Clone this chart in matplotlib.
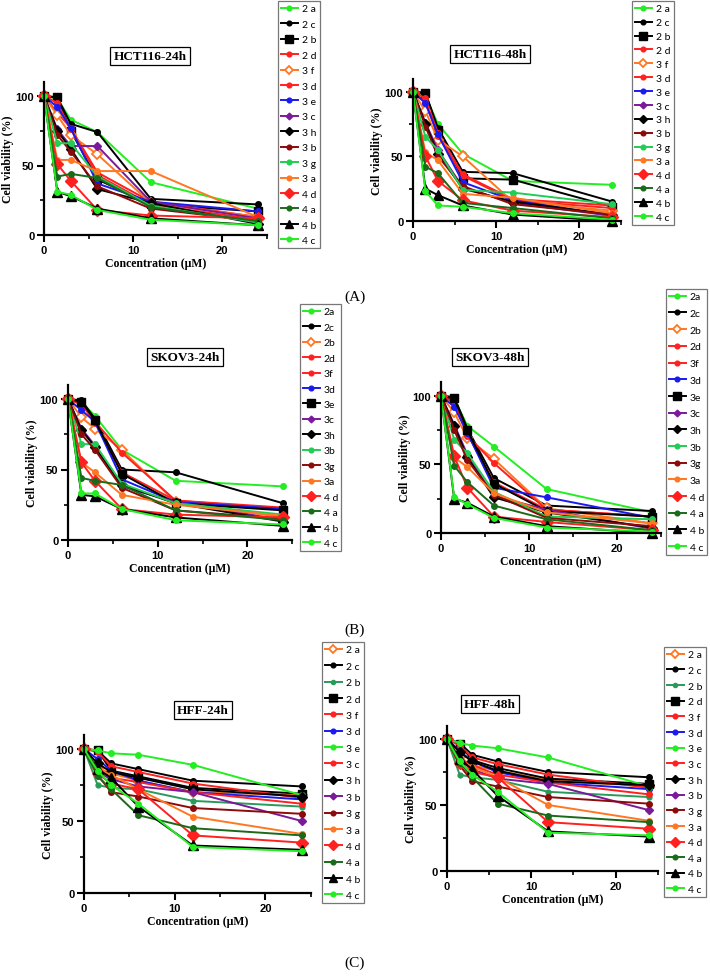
import matplotlib
matplotlib.use("Agg")
import matplotlib.pyplot as plt
from matplotlib.ticker import MultipleLocator

conc = [0, 1.5, 3, 6, 12, 24]

# ---------------- HCT116 ----------------
hct_labels = ["2 a", "2 c", "2 b", "2 d", "3 f", "3 d", "3 e", "3 c", "3 h", "3 b", "3 g", "3 a", "4 d", "4 a", "4 b", "4 c"]
hct_styles = ["lime", "blk", "blksq", "red", "orgopen", "red", "blue", "purple", "blkdia", "darkred", "mgreen", "orange", "reddia", "dkgreen", "blktri", "lime"]
hct24_values = [
    [100, 98, 83, 74, 38, 19],
    [100, 99, 80, 74, 26, 22],
    [100, 99, 75, 40, 22, 17],
    [100, 88, 77, 45, 24, 13],
    [100, 86, 72, 58, 23, 13],
    [100, 95, 76, 43, 22, 11],
    [100, 92, 77, 37, 24, 17],
    [100, 76, 64, 64, 24, 12],
    [100, 75, 62, 33, 23, 8],
    [100, 72, 60, 35, 19, 10],
    [100, 66, 66, 42, 21, 9],
    [100, 54, 54, 46, 46, 13],
    [100, 51, 39, 18, 14, 12],
    [100, 42, 44, 41, 20, 10],
    [100, 31, 28, 19, 12, 7],
    [100, 31, 29, 18, 11, 7],
]
hct48_values = [
    [100, 97, 75, 52, 31, 28],
    [100, 99, 72, 38, 37, 15],
    [100, 99, 70, 33, 32, 11],
    [100, 95, 68, 36, 17, 12],
    [100, 85, 63, 50, 15, 8],
    [100, 92, 66, 35, 16, 10],
    [100, 91, 67, 30, 16, 4],
    [100, 76, 55, 26, 14, 4],
    [100, 75, 52, 25, 15, 5],
    [100, 73, 50, 27, 13, 5],
    [100, 65, 55, 24, 22, 13],
    [100, 53, 47, 21, 18, 6],
    [100, 50, 31, 16, 8, 3],
    [100, 42, 37, 14, 10, 2],
    [100, 25, 20, 12, 5, 0],
    [100, 23, 12, 11, 6, 1],
]

# ---------------- SKOV3 ----------------
skov_labels = ["2a", "2c", "2b", "2d", "3f", "3d", "3e", "3c", "3h", "3b", "3g", "3a", "4 d", "4 a", "4 b", "4 c"]
skov_styles = ["lime", "blk", "orgopen", "red", "red", "blue", "blksq", "purple", "blkdia", "mgreen", "darkred", "orange", "reddia", "dkgreen", "blktri", "lime"]
skov24_values = [
    [100, 98, 88, 64, 42, 38],
    [100, 99, 86, 50, 48, 26],
    [100, 87, 79, 64, 27, 16],
    [100, 96, 84, 62, 28, 22],
    [100, 98, 83, 48, 28, 23],
    [100, 92, 84, 43, 27, 22],
    [100, 98, 85, 47, 26, 21],
    [100, 79, 67, 38, 27, 14],
    [100, 78, 66, 39, 26, 13],
    [100, 68, 68, 40, 26, 18],
    [100, 75, 64, 37, 21, 15],
    [100, 55, 48, 32, 25, 17],
    [100, 55, 42, 22, 18, 16],
    [100, 44, 42, 39, 21, 14],
    [100, 32, 31, 22, 16, 10],
    [100, 33, 33, 22, 14, 11],
]
skov48_values = [
    [100, 98, 78, 63, 32, 15],
    [100, 99, 76, 40, 20, 16],
    [100, 88, 69, 54, 18, 7],
    [100, 95, 71, 51, 17, 12],
    [100, 97, 72, 37, 17, 12],
    [100, 92, 73, 33, 26, 11],
    [100, 98, 75, 36, 16, 12],
    [100, 79, 57, 27, 17, 3],
    [100, 78, 55, 26, 15, 4],
    [100, 68, 58, 30, 12, 10],
    [100, 75, 53, 28, 11, 5],
    [100, 55, 48, 29, 15, 7],
    [100, 56, 33, 12, 8, 2],
    [100, 49, 37, 20, 10, 2],
    [100, 25, 22, 12, 5, 0],
    [100, 26, 21, 11, 4, 1],
]

# ---------------- HFF ----------------
hff_labels = ["2 a", "2 c", "2 b", "2 d", "3 f", "3 d", "3 e", "3 c", "3 h", "3 b", "3 g", "3 a", "4 d", "4 a", "4 b", "4 c"]
hff_styles = ["orgopen", "blk", "teal", "blksq", "red", "blue", "lime", "red", "blkdia", "purple", "darkred", "orange", "reddia", "dkgreen", "blktri", "lime"]
hff24_values = [
    [100, 87, 83, 78, 70, 68],
    [100, 99, 90, 86, 78, 74],
    [100, 75, 73, 72, 64, 60],
    [100, 99, 85, 81, 73, 69],
    [100, 98, 88, 84, 76, 66],
    [100, 93, 85, 78, 70, 65],
    [100, 99, 97, 96, 89, 68],
    [100, 87, 80, 77, 70, 62],
    [100, 90, 84, 80, 72, 67],
    [100, 84, 79, 74, 70, 50],
    [100, 82, 70, 67, 59, 55],
    [100, 86, 82, 72, 53, 41],
    [100, 83, 76, 72, 40, 35],
    [100, 81, 72, 54, 45, 40],
    [100, 86, 80, 60, 33, 30],
    [100, 85, 75, 62, 32, 29],
]
hff48_values = [
    [100, 86, 80, 76, 69, 64],
    [100, 97, 88, 83, 75, 71],
    [100, 73, 71, 69, 60, 56],
    [100, 96, 84, 78, 70, 66],
    [100, 95, 86, 81, 73, 63],
    [100, 91, 83, 75, 67, 62],
    [100, 97, 95, 93, 86, 64],
    [100, 85, 80, 73, 67, 58],
    [100, 90, 83, 76, 68, 65],
    [100, 84, 77, 70, 66, 46],
    [100, 80, 68, 64, 56, 51],
    [100, 84, 79, 71, 50, 38],
    [100, 82, 75, 71, 37, 32],
    [100, 82, 71, 51, 42, 37],
    [100, 85, 77, 57, 30, 26],
    [100, 83, 73, 60, 29, 27],
]

RED = "#ff2020"
ORG = "#ff7722"
STY = {
    "lime":    dict(color="#22ee22", marker="o", ms=4),
    "blk":     dict(color="black", marker="o", ms=4),
    "blksq":   dict(color="black", marker="s", ms=6),
    "red":     dict(color=RED, marker="o", ms=4),
    "orgopen": dict(color=ORG, marker="D", ms=5, mfc="white", mew=1.3),
    "blue":    dict(color="#1a1aee", marker="o", ms=4),
    "purple":  dict(color="#7a1a9a", marker="D", ms=4),
    "blkdia":  dict(color="black", marker="D", ms=5),
    "darkred": dict(color="#8b0a0a", marker="o", ms=4),
    "mgreen":  dict(color="#22cc55", marker="o", ms=4),
    "orange":  dict(color=ORG, marker="o", ms=4),
    "reddia":  dict(color=RED, marker="D", ms=6),
    "dkgreen": dict(color="#1a6a1a", marker="o", ms=4),
    "blktri":  dict(color="black", marker="^", ms=7),
    "teal":    dict(color="#2a9a5a", marker="o", ms=3.5),
}

W, H = 710, 978
fig = plt.figure(figsize=(W / 100, H / 100), dpi=100)

SERIF = "Liberation Serif"
SANS = "Liberation Sans"

def px_axes(x0, y0, xpu, ypu):
    return [x0 / W, 1 - y0 / H, 25 * xpu / W, 110 * ypu / H]

panels = [
    ("HCT116-24h", hct_labels, hct_styles, hct24_values, (44, 236, 8.9, 1.39), (150, 57), (278, 2), 0.59),
    ("HCT116-48h", hct_labels, hct_styles, hct48_values, (413, 222, 8.3, 1.293), (490, 55), (632, 2), 0.44),
    ("SKOV3-24h", skov_labels, skov_styles, skov24_values, (68, 541, 8.97, 1.41), (185, 358), (300, 305), 0.59),
    ("SKOV3-48h", skov_labels, skov_styles, skov48_values, (441, 534, 8.8, 1.373), (490, 358), (666, 290), 0.71),
    ("HFF-24h", hff_labels, hff_styles, hff24_values, (84, 894, 9.07, 1.44), (203, 711), (322, 643), 0.68),
    ("HFF-48h", hff_labels, hff_styles, hff48_values, (447, 872, 8.43, 1.32), (490, 705), (664, 648), 0.61),
]

for title, labels, styles, values, rect, tpos, lpos, lsp in panels:
    ax = fig.add_axes(px_axes(*rect))
    for lab, st, vals in zip(labels, styles, values):
        s = STY[st]
        ax.plot(conc, vals, label=lab, lw=1.4, clip_on=False, **s)
    ax.set_xlim(0, 25)
    ax.set_ylim(0, 110)
    for sp in ["top", "right"]:
        ax.spines[sp].set_visible(False)
    for sp in ["left", "bottom"]:
        ax.spines[sp].set_linewidth(1.6)
    ax.xaxis.set_minor_locator(MultipleLocator(5))
    ax.yaxis.set_minor_locator(MultipleLocator(25))
    ax.tick_params(which="major", direction="out", length=5, width=1.5, pad=2)
    ax.tick_params(which="minor", direction="out", length=3, width=1.2)
    ax.set_xticks([0, 10, 20])
    ax.set_yticks([0, 50, 100])
    ax.set_xticklabels(["0", "10", "20"], fontfamily=SANS, fontweight="bold", fontsize=8)
    ax.set_yticklabels(["0", "50", "100"], fontfamily=SANS, fontweight="bold", fontsize=8)
    ax.set_xlabel("Concentration (μM)", fontfamily=SERIF, fontweight="bold", fontsize=8.5, labelpad=2)
    ax.set_ylabel("Cell viability (%)", fontfamily=SERIF, fontweight="bold", fontsize=8.5, labelpad=1.5)
    fig.text(tpos[0] / W, 1 - tpos[1] / H, title, fontfamily=SERIF, fontweight="bold", fontsize=9.5,
             ha="center", va="center",
             bbox=dict(boxstyle="square,pad=0.25", fc="white", ec="black", lw=0.9))
    leg = ax.legend(loc="upper left", bbox_to_anchor=(lpos[0] / W, 1 - lpos[1] / H),
                    bbox_transform=fig.transFigure, frameon=True, fancybox=False,
                    prop=dict(family="Lato", size=7.5), labelspacing=lsp, handlelength=1.6,
                    handletextpad=0.4, borderpad=0.3, borderaxespad=0, markerscale=0.85)
    leg.get_frame().set_edgecolor("#555555")
    leg.get_frame().set_linewidth(0.9)

for lab, y in [("(A)", 297), ("(B)", 630), ("(C)", 963)]:
    fig.text(355 / W, 1 - y / H, lab, fontfamily=SERIF, fontsize=11, ha="center", va="center")

fig.savefig("out.png", dpi=100, facecolor="white")
